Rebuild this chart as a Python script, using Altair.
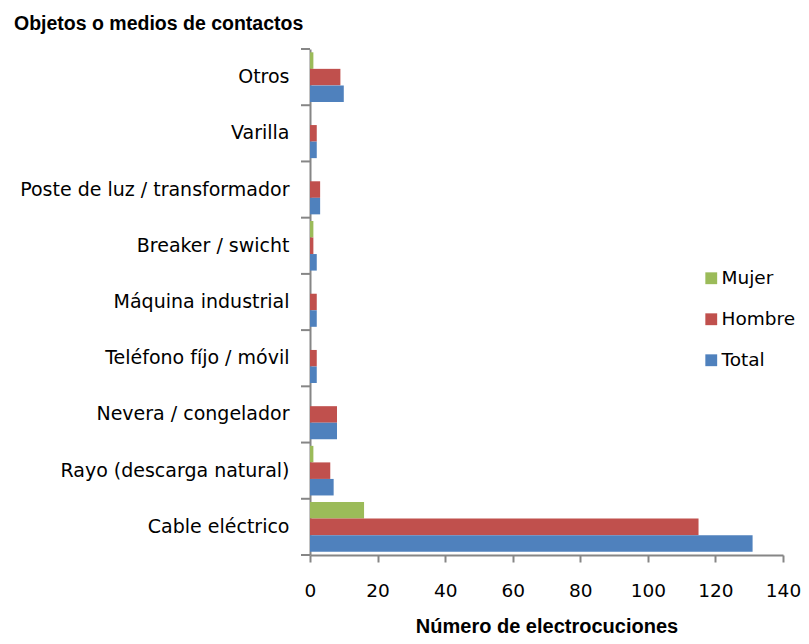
import altair as alt
import pandas as pd

categories = ["Otros", "Varilla", "Poste de luz /  transformador", "Breaker / swicht",
              "Máquina industrial", "Teléfono fíjo / móvil", "Nevera / congelador",
              "Rayo (descarga natural)", "Cable eléctrico"]
mujer = [1, 0, 0, 1, 0, 0, 0, 1, 16]
hombre = [9, 2, 3, 1, 2, 2, 8, 6, 115]
total = [10, 2, 3, 2, 2, 2, 8, 7, 131]
series = ["Mujer", "Hombre", "Total"]
colors = ["#9BBB59", "#C0504D", "#4F81BD"]
x_ticks = [0, 20, 40, 60, 80, 100, 120, 140]

rows = []
for i, c in enumerate(categories):
    for s, vals in zip(series, [mujer, hombre, total]):
        rows.append({"cat": c, "serie": s, "val": vals[i]})
df = pd.DataFrame(rows)
tick_df = pd.DataFrame({"cat": categories})

FONT = "DejaVu Sans"
BFONT = "Liberation Sans"
W, H = 473, 506

yscale = alt.Scale(domain=categories, paddingInner=0, paddingOuter=0)

bars = alt.Chart(df).mark_bar().encode(
    y=alt.Y("cat:N", scale=yscale, sort=categories,
            axis=alt.Axis(title=None, ticks=False, labelFont=FONT, labelFontSize=19,
                          labelColor="#000", labelPadding=21, domainColor="#868686",
                          domainWidth=2, labelLimit=400)),
    yOffset=alt.YOffset("serie:N", sort=series,
                        scale=alt.Scale(domain=series, paddingInner=0, paddingOuter=0.2)),
    x=alt.X("val:Q", scale=alt.Scale(domain=[0, 140], nice=False),
            axis=alt.Axis(values=x_ticks, title="Número de electrocuciones", grid=False,
                          labelFont=FONT, labelFontSize=18.5, labelColor="#000",
                          labelFlush=False,
                          tickColor="#868686", tickSize=7, tickWidth=2,
                          domainColor="#868686", domainWidth=2, labelPadding=19,
                          titleFont=BFONT, titleFontSize=20, titleFontWeight="bold",
                          titleColor="#000", titlePadding=17)),
    color=alt.Color("serie:N", sort=series,
                    scale=alt.Scale(domain=series, range=colors),
                    legend=alt.Legend(title=None, orient="none", legendX=392, legendY=220,
                                      symbolType="square", symbolSize=140,
                                      symbolStrokeWidth=0, labelFont=FONT,
                                      labelFontSize=18.5, labelColor="#000",
                                      rowPadding=22, labelOffset=1)),
)

ticks = alt.Chart(tick_df).mark_rule(color="#868686", strokeWidth=2).encode(
    y=alt.Y("cat:N", scale=yscale, sort=categories, bandPosition=0),
    x=alt.value(-9), x2=alt.value(0),
)
bottom_tick = alt.Chart(pd.DataFrame({"a": [0]})).mark_rule(color="#868686", strokeWidth=2).encode(
    y=alt.value(H), x=alt.value(-9), x2=alt.value(0),
)

chart = alt.layer(bars, ticks, bottom_tick).properties(
    width=W, height=H,
    autosize=alt.AutoSizeParams(type="none"),
    padding={"left": 302, "top": 41, "right": 18, "bottom": 81},
    title=alt.TitleParams("Objetos o medios de contactos", anchor="start", frame="group",
                          dx=-296, offset=14, font=BFONT, fontSize=19.5, fontWeight="bold",
                          color="#000"),
).configure_view(stroke=None)

chart.save("out.html", embed_options={"renderer": "svg", "actions": False})
